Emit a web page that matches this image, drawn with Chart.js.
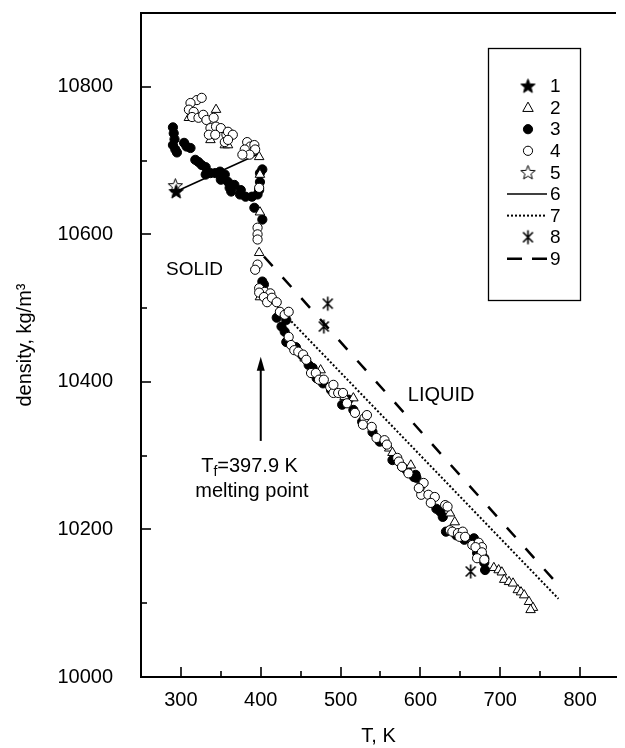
<!DOCTYPE html>
<html><head><meta charset="utf-8">
<script src="https://cdn.jsdelivr.net/npm/chart.js@4.4.1/dist/chart.umd.min.js"></script>
<style>html,body{margin:0;padding:0;background:#fff}canvas{display:block}</style>
</head><body>
<canvas id="c" width="625" height="748"></canvas>
<script>
const FONT = "'Liberation Sans', Arial, Helvetica, sans-serif";

// Tick values
const xMajorTicks = [300, 400, 500, 600, 700, 800];
const xMinorTicks = [350, 450, 550, 650, 750];
const yMajorTicks = [10000, 10200, 10400, 10600, 10800];
const yMinorTicks = [10100, 10300, 10500, 10700];

// Series 1: filled star
const s1T = [294];
const s1Rho = [10658];
// Series 5: open star
const s5T = [293];
const s5Rho = [10666];
// Series 8: asterisks
const s8T = [484, 479, 663];
const s8Rho = [10506, 10475, 10143];
// Series 6: solid line
const s6T = [294, 399];
const s6Rho = [10658, 10710];
// Series 7: dotted line
const s7T = [400, 773];
const s7Rho = [10525, 10106];
// Series 9: dashed line
const s9T = [404, 775];
const s9Rho = [10570, 10122];

// Series 2: open triangles
const s2T = [310, 344, 337, 355, 359, 398, 399, 399, 398, 399,
  455, 475, 505, 516, 561, 565, 588, 600, 637, 643,
  692, 698, 702, 705, 711, 716, 722, 726, 730, 736, 741, 738];
const s2Rho = [10758, 10769, 10728, 10721, 10721, 10705, 10681, 10630, 10575, 10515,
  10432, 10416, 10380, 10378, 10310, 10304, 10287, 10262, 10222, 10210,
  10148, 10145, 10142, 10132, 10129, 10127, 10118, 10115, 10111, 10102, 10094, 10091];

// Series 3: filled circles
const s3T = [290, 291, 292, 290, 293, 295, 304, 307, 312, 318, 322, 326, 331, 331, 337, 343, 349, 350, 355, 359,
  361, 367, 363, 374, 375, 381, 389, 396, 398, 399, 399, 402, 392, 402, 402,
  404, 420, 432, 426, 430, 432, 444, 452, 460, 465, 470, 478, 488, 502, 510, 516, 527, 540, 549,
  565, 577, 583, 592, 595, 594, 620, 625, 628, 632, 645, 655, 667, 671, 680, 680, 681];
const s3Rho = [10745, 10737, 10729, 10721, 10715, 10711, 10724, 10719, 10717, 10701, 10698, 10694, 10691, 10681, 10683, 10683, 10685, 10674, 10681, 10671,
  10663, 10667, 10658, 10654, 10660, 10651, 10651, 10654, 10660, 10671, 10683, 10688, 10636, 10620, 10536,
  10532, 10487, 10484, 10475, 10468, 10454, 10447, 10436, 10423, 10419, 10405, 10398, 10389, 10369, 10376, 10362, 10346, 10332, 10319,
  10294, 10285, 10280, 10271, 10270, 10274, 10228, 10224, 10217, 10197, 10192, 10186, 10188, 10168, 10161, 10155, 10145];

// Series 4: open circles
const s4T = [320, 312, 310, 316, 314, 322, 328, 332, 341, 337, 344, 350, 335, 343, 357, 355, 326,
  359, 365, 359, 383, 387, 392, 393, 380, 386, 377, 398, 396, 396, 396, 396, 393, 398, 405, 412,
  398, 404, 408, 414, 420, 424, 430, 435, 435, 438, 442, 447, 453, 457, 463, 469, 473, 479,
  487, 491, 497, 491, 503, 508, 518, 530, 533, 528, 539, 545, 555, 558, 571, 573, 577, 585,
  600, 601, 604, 598, 610, 618, 613, 631, 634, 637, 640, 647, 653, 649, 656, 665, 673, 677,
  675, 669, 677, 671, 680];
const s4Rho = [10782, 10778, 10769, 10766, 10759, 10758, 10762, 10755, 10758, 10744, 10746, 10744, 10735, 10735, 10735, 10725, 10785,
  10739, 10735, 10728, 10725, 10719, 10721, 10715, 10715, 10708, 10708, 10663, 10609, 10600, 10593, 10559, 10552, 10527, 10522, 10520,
  10521, 10515, 10508, 10514, 10508, 10495, 10491, 10495, 10461, 10450, 10443, 10441, 10437, 10430, 10412, 10412, 10403, 10403,
  10393, 10385, 10385, 10396, 10385, 10371, 10358, 10351, 10355, 10342, 10339, 10324, 10321, 10315, 10297, 10292, 10285, 10276,
  10258, 10247, 10263, 10256, 10247, 10244, 10236, 10233, 10231, 10199, 10197, 10195, 10197, 10190, 10190, 10179, 10182, 10176,
  10163, 10176, 10169, 10161, 10159];

const zip = (t, r) => t.map((v, i) => ({x: v, y: r[i]}));

function makeStar(filled) {
  const c = document.createElement('canvas');
  c.width = 17; c.height = 17;
  const g = c.getContext('2d');
  g.beginPath();
  for (let i = 0; i < 10; i++) {
    const r = i % 2 === 0 ? 7.5 : 3.2;
    const a = -Math.PI / 2 + i * Math.PI / 5;
    const px = 8.5 + r * Math.cos(a), py = 9 + r * Math.sin(a);
    if (i === 0) g.moveTo(px, py); else g.lineTo(px, py);
  }
  g.closePath();
  g.fillStyle = filled ? '#000' : '#fff';
  g.fill();
  g.lineWidth = 1;
  g.strokeStyle = '#000';
  g.stroke();
  return c;
}
function makeAsterisk() {
  const c = document.createElement('canvas');
  c.width = 17; c.height = 17;
  const g = c.getContext('2d');
  g.strokeStyle = '#000'; g.lineWidth = 1.6;
  const cx = 8.5, cy = 8.5, r = 7;
  g.beginPath();
  g.moveTo(cx, cy - r); g.lineTo(cx, cy + r);
  const d = r * Math.cos(Math.PI / 4);
  g.moveTo(cx - d, cy - d); g.lineTo(cx + d, cy + d);
  g.moveTo(cx - d, cy + d); g.lineTo(cx + d, cy - d);
  g.stroke();
  return c;
}
const starFilled = makeStar(true);
const starOpen = makeStar(false);
const asterisk = makeAsterisk();

const datasets = [
  {label: '6', data: zip(s6T, s6Rho), showLine: true, pointRadius: 0, borderColor: '#000', borderWidth: 1.6, order: 9},
  {label: '7', data: zip(s7T, s7Rho), showLine: true, pointRadius: 0, borderColor: '#000', borderWidth: 2, borderDash: [2, 2], order: 9},
  {label: '9', data: zip(s9T, s9Rho), showLine: true, pointRadius: 0, borderColor: '#000', borderWidth: 2.5, borderDash: [13, 15], order: 9},
  {label: '3', data: zip(s3T, s3Rho), pointStyle: 'circle', pointRadius: 4.6, backgroundColor: '#000', borderColor: '#000', borderWidth: 1, order: 5},
  {label: '2', data: zip(s2T, s2Rho), pointStyle: 'triangle', pointRadius: 5.5, backgroundColor: '#fff', borderColor: '#000', borderWidth: 1, order: 4},
  {label: '4', data: zip(s4T, s4Rho), pointStyle: 'circle', pointRadius: 4.6, backgroundColor: '#fff', borderColor: '#000', borderWidth: 1, order: 3},
  {label: '5', data: zip(s5T, s5Rho), pointStyle: starOpen, pointRadius: 8, order: 2},
  {label: '1', data: zip(s1T, s1Rho), pointStyle: starFilled, pointRadius: 8, order: 1},
  {label: '8', data: zip(s8T, s8Rho), pointStyle: asterisk, pointRadius: 8, order: 1}
];

function drawSym(ctx, kind, x, y) {
  ctx.save();
  ctx.strokeStyle = '#000'; ctx.fillStyle = '#000'; ctx.lineWidth = 1;
  if (kind === 'starF') ctx.drawImage(starFilled, x - 8.5, y - 8.5);
  else if (kind === 'starO') ctx.drawImage(starOpen, x - 8.5, y - 8.5);
  else if (kind === 'ast') ctx.drawImage(asterisk, x - 8.5, y - 8.5);
  else if (kind === 'tri') {
    const r = 5.5;
    ctx.beginPath();
    ctx.moveTo(x, y - r);
    ctx.lineTo(x + r * 0.95, y + r * 0.7);
    ctx.lineTo(x - r * 0.95, y + r * 0.7);
    ctx.closePath(); ctx.fillStyle = '#fff'; ctx.fill(); ctx.stroke();
  } else if (kind === 'circF' || kind === 'circO') {
    ctx.beginPath(); ctx.arc(x, y, 4.6, 0, Math.PI * 2);
    ctx.fillStyle = kind === 'circF' ? '#000' : '#fff'; ctx.fill(); ctx.stroke();
  } else if (kind === 'solid' || kind === 'dot' || kind === 'dash') {
    ctx.beginPath();
    if (kind === 'solid') { ctx.lineWidth = 1.6; }
    if (kind === 'dot') { ctx.lineWidth = 2; ctx.setLineDash([2, 2]); }
    if (kind === 'dash') { ctx.lineWidth = 2.5; ctx.setLineDash([15, 10]); }
    ctx.moveTo(x - 21, y); ctx.lineTo(x + 19, y); ctx.stroke();
  }
  ctx.restore();
}

const legendItems = [
  ['starF', '1'], ['tri', '2'], ['circF', '3'], ['circO', '4'], ['starO', '5'],
  ['solid', '6'], ['dot', '7'], ['ast', '8'], ['dash', '9']
];

const deco = {
  id: 'deco',
  afterDraw(chart) {
    const {ctx, chartArea: a, scales: {x, y}} = chart;
    ctx.save();
    ctx.strokeStyle = '#000';
    // top frame line
    ctx.lineWidth = 2;
    ctx.beginPath(); ctx.moveTo(a.left - 1, a.top); ctx.lineTo(a.right, a.top); ctx.stroke();
    // inward ticks
    ctx.lineWidth = 1.6;
    const tick = (x1, y1, x2, y2) => { ctx.beginPath(); ctx.moveTo(x1, y1); ctx.lineTo(x2, y2); ctx.stroke(); };
    xMajorTicks.forEach(v => { const p = Math.round(x.getPixelForValue(v)); tick(p, a.bottom, p, a.bottom - 10); });
    xMinorTicks.forEach(v => { const p = Math.round(x.getPixelForValue(v)); tick(p, a.bottom, p, a.bottom - 6); });
    yMajorTicks.forEach(v => { const p = Math.round(y.getPixelForValue(v)); tick(a.left, p, a.left + 10, p); });
    yMinorTicks.forEach(v => { const p = Math.round(y.getPixelForValue(v)); tick(a.left, p, a.left + 6, p); });

    // annotations
    ctx.fillStyle = '#000';
    ctx.font = '19px ' + FONT;
    ctx.textAlign = 'center'; ctx.textBaseline = 'middle';
    ctx.fillText('SOLID', x.getPixelForValue(317), y.getPixelForValue(10552));
    ctx.font = '20px ' + FONT;
    ctx.fillText('LIQUID', x.getPixelForValue(626), y.getPixelForValue(10382));

    // T_f label with subscript
    const cx = x.getPixelForValue(386), cy = y.getPixelForValue(10286);
    ctx.font = '20px ' + FONT;
    const wT = ctx.measureText('T').width;
    const wR = ctx.measureText('=397.9 K').width;
    ctx.font = '14px ' + FONT;
    const wf = ctx.measureText('f').width;
    const total = wT + wf + wR;
    let sx = cx - total / 2;
    ctx.textAlign = 'left';
    ctx.font = '20px ' + FONT;
    ctx.fillText('T', sx, cy); sx += wT;
    ctx.font = '14px ' + FONT;
    ctx.fillText('f', sx, cy + 6); sx += wf;
    ctx.font = '20px ' + FONT;
    ctx.fillText('=397.9 K', sx, cy);
    ctx.textAlign = 'center';
    ctx.fillText('melting point', x.getPixelForValue(389), y.getPixelForValue(10252));

    // arrow at melting point
    const ax = x.getPixelForValue(400);
    const aBot = y.getPixelForValue(10320), aTip = y.getPixelForValue(10434);
    ctx.lineWidth = 2;
    ctx.beginPath(); ctx.moveTo(ax, aBot); ctx.lineTo(ax, aTip + 12); ctx.stroke();
    ctx.beginPath(); ctx.moveTo(ax, aTip); ctx.lineTo(ax - 4, aTip + 14); ctx.lineTo(ax + 4, aTip + 14); ctx.closePath(); ctx.fill();

    // legend box
    ctx.lineWidth = 1.3;
    ctx.strokeRect(488.5, 48.5, 92, 252);
    ctx.font = '19px ' + FONT;
    ctx.textAlign = 'left'; ctx.textBaseline = 'middle';
    legendItems.forEach((it, i) => {
      const ly = 86 + i * 21.6;
      drawSym(ctx, it[0], 528, ly);
      ctx.fillStyle = '#000';
      ctx.fillText(it[1], 550, ly + 1);
    });
    ctx.restore();
  }
};

new Chart(document.getElementById('c'), {
  type: 'scatter',
  data: {datasets},
  plugins: [deco],
  options: {
    responsive: false,
    animation: false,
    devicePixelRatio: 1,
    layout: {padding: {top: 13, right: 0, left: 0, bottom: 0}},
    plugins: {legend: {display: false}, tooltip: {enabled: false}},
    scales: {
      x: {
        type: 'linear', min: 250, max: 845,
        afterBuildTicks: s => { s.ticks = xMajorTicks.map(v => ({value: v})); },
        afterFit: s => { s.height = 71; s.paddingLeft = 0; s.paddingRight = 0; },
        grid: {display: false},
        border: {display: true, color: '#000', width: 2},
        ticks: {color: '#000', font: {size: 20, family: FONT}, padding: 3, maxRotation: 0, autoSkip: false,
          callback: v => String(v)},
        title: {display: true, text: 'T, K', color: '#000', font: {size: 20, family: FONT}, padding: {top: 0, bottom: 0}}
      },
      y: {
        type: 'linear', min: 10000, max: 10900,
        afterBuildTicks: s => { s.ticks = yMajorTicks.map(v => ({value: v})); },
        afterFit: s => { s.width = 141; s.paddingTop = 0; s.paddingBottom = 0; },
        grid: {display: false},
        border: {display: true, color: '#000', width: 2},
        ticks: {color: '#000', font: {size: 20, family: FONT}, padding: 20, autoSkip: false,
          callback: v => String(v)},
        title: {display: true, text: 'density, kg/m³', color: '#000', font: {size: 20, family: FONT}, padding: {top: 13, bottom: 0}}
      }
    }
  }
});
</script>
</body></html>
